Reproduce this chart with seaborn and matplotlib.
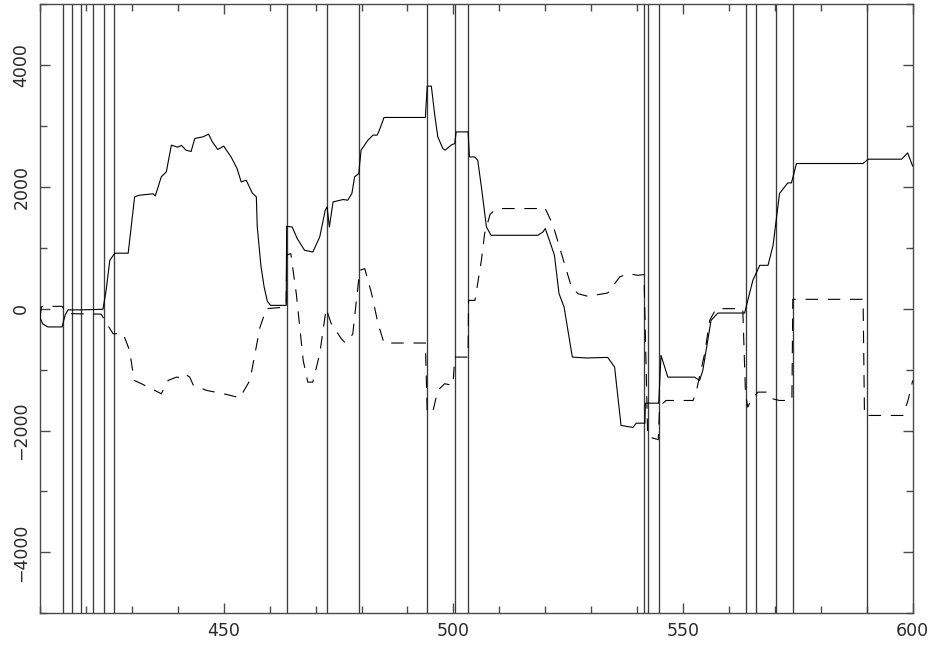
import matplotlib
matplotlib.use("Agg")
import matplotlib.pyplot as plt
import seaborn as sns
import pandas as pd
from matplotlib.ticker import MultipleLocator

# Solid trace
solid_x = [410.0, 410.6, 411.7, 414.8, 415.5, 416.1, 419.0, 423.7, 424.4, 425.2,
           426.3, 429.2, 430.6, 431.5, 432.7, 434.6, 435.1, 436.4, 437.5, 438.6,
           440.0, 440.8, 441.8, 442.9, 443.7, 445.5, 446.7, 447.5, 448.7, 450.0,
           451.6, 452.9, 453.8, 454.9, 456.2, 457.1, 457.3, 458.1, 458.8, 459.5,
           460.2, 463.6, 463.7, 464.9, 466.0, 467.6, 469.4, 470.9, 472.1, 472.5,
           473.0, 473.8, 476.0, 477.0, 477.9, 478.5, 479.4, 479.9, 481.4, 482.5,
           483.4, 483.9, 484.9, 493.9, 494.3, 495.2, 495.9, 496.6, 497.7, 498.2,
           499.5, 500.3, 500.6, 503.2, 503.5, 504.6, 505.3, 506.1, 507.2, 508.2,
           518.4, 519.5, 520.0, 520.9, 522.0, 523.0, 524.1, 525.9, 529.0, 533.6,
           535.1, 536.5, 539.1, 539.8, 541.7, 541.8, 544.7, 545.2, 546.7, 552.5,
           553.6, 554.3, 556.1, 557.6, 563.4, 565.2, 566.7, 568.5, 569.6, 571.0,
           572.8, 573.6, 574.7, 589.2, 590.3, 597.6, 598.9, 600.0]
solid_y = [-150, -250, -300, -300, -100, -20, -20, -10, 300, 794,
           910, 910, 1834, 1860, 1870, 1885, 1850, 2163, 2245, 2683,
           2650, 2680, 2600, 2580, 2793, 2820, 2864, 2740, 2612, 2667,
           2490, 2300, 2080, 2108, 1900, 1834, 1341, 700, 355, 120,
           54, 54, 1352, 1341, 1150, 958, 930, 1177, 1615, 1670,
           1341, 1752, 1791, 1780, 1890, 2163, 2218, 2601, 2765, 2848,
           2848, 2930, 3138, 3138, 3652, 3652, 3204, 2820, 2629, 2601,
           2683, 2711, 2901, 2901, 2490, 2490, 2436, 1997, 1340, 1204,
           1204, 1258, 1314, 1122, 876, 246, 26, -795, -810, -800,
           -960, -1917, -1950, -1880, -1880, -1551, -1551, -767, -1124, -1124,
           -1178, -1014, -192, -72, -72, 465, 711, 711, 1040, 1889,
           2064, 2064, 2382, 2382, 2453, 2453, 2556, 2338]

# Dashed trace
dashed_x = [410.0, 410.3, 410.8, 414.8, 415.6, 416.3, 423.3, 424.1, 425.9, 428.1,
            429.5, 430.5, 432.1, 432.8, 435.0, 436.4, 437.9, 439.7, 440.5, 441.5,
            442.6, 443.4, 446.3, 450.6, 453.5, 455.7, 456.8, 457.9, 459.3, 463.6,
            463.7, 464.6, 465.8, 467.3, 468.3, 469.4, 470.9, 472.3, 473.4, 475.6,
            476.3, 477.3, 478.1, 479.6, 480.7, 482.2, 483.6, 484.9, 493.9, 494.3,
            495.5, 496.6, 498.1, 499.9, 500.3, 503.2, 503.3, 504.7, 506.1, 506.8,
            508.0, 509.0, 510.0, 518.4, 519.1, 520.0, 521.7, 523.1, 525.7, 527.1,
            529.3, 533.6, 536.2, 538.0, 540.2, 541.5, 542.3, 544.6, 544.9, 546.3,
            552.2, 553.1, 553.4, 554.7, 555.8, 557.2, 563.0, 563.6, 564.1, 564.8,
            566.3, 568.5, 569.5, 571.0, 573.7, 573.9, 589.2, 589.5, 597.9, 599.0,
            600.0]
dashed_y = [-150, 30, 38, 38, -60, -82, -90, -192, -411, -411,
            -685, -1178, -1232, -1260, -1342, -1397, -1178, -1124, -1130, -1068,
            -1124, -1260, -1342, -1408, -1463, -1178, -740, -302, 0, 26,
            880, 903, 246, -850, -1206, -1206, -740, 0, -246, -493,
            -548, -520, -411, 629, 657, 246, -246, -564, -564, -1699,
            -1699, -1342, -1232, -1260, -795, -795, 136, 136, 794, 1232,
            1550, 1615, 1643, 1643, 1615, 1643, 1369, 1012, 355, 246,
            202, 257, 520, 575, 547, 560, -2100, -2150, -1600, -1507,
            -1507, -1288, -1178, -740, -192, 0, 0, -1400, -1616, -1500,
            -1370, -1370, -1480, -1507, -1507, 153, 153, -1753, -1753, -1500,
            -1178]

# Segment boundaries
boundaries = [414.95, 417.05, 419.0, 421.45, 423.85, 426.15, 463.7, 472.4, 479.5,
              494.25, 500.35, 503.25, 541.5, 542.3, 544.8, 563.6, 565.85, 570.2,
              573.95, 590.1]

x_ticks = [450, 500, 550, 600]
y_ticks = [-4000, -2000, 0, 2000, 4000]

sns.set_style("ticks")
plt.rcParams["font.family"] = ["DejaVu Sans"]
plt.rcParams["lines.scale_dashes"] = False

fig = plt.figure(figsize=(9.32, 6.45), dpi=100)
ax = fig.add_axes([40 / 932, 1 - 613.3 / 645, (912.7 - 40) / 932, (613.3 - 4) / 645])

frame_col = "#4a4a4a"
for xb in boundaries:
    ax.axvline(xb, color="#3a3a3a", lw=0.95, zorder=1)

df_solid = pd.DataFrame({"x": solid_x, "y": solid_y})
df_dashed = pd.DataFrame({"x": dashed_x, "y": dashed_y})
sns.lineplot(data=df_solid, x="x", y="y", ax=ax, color="black", lw=0.8,
             estimator=None, sort=False, zorder=3)
sns.lineplot(data=df_dashed, x="x", y="y", ax=ax, color="black", lw=0.8,
             estimator=None, sort=False, zorder=3,
             linestyle=(0, (9.0, 7.0)))

ax.set_xlim(410, 600)
ax.set_ylim(-5000, 5000)
ax.set_xticks(x_ticks)
ax.set_yticks(y_ticks)
ax.xaxis.set_minor_locator(MultipleLocator(10))
ax.yaxis.set_minor_locator(MultipleLocator(1000))
ax.set_xlabel("")
ax.set_ylabel("")

for sp in ax.spines.values():
    sp.set_visible(True)
    sp.set_color(frame_col)
    sp.set_linewidth(1.0)

ax.tick_params(which="major", direction="in", length=7.5, width=1.0, color=frame_col,
               top=True, right=True, labelsize=12.5, labelcolor="#2a2a2a")
ax.tick_params(which="minor", direction="in", length=5, width=1.0, color=frame_col,
               top=True, right=True)
ax.tick_params(axis="x", which="major", pad=6)
ax.tick_params(axis="y", which="major", pad=7)

ax.set_xticklabels([str(v) for v in x_ticks])
ax.set_yticklabels(["\u2212" + str(-v) if v < 0 else str(v) for v in y_ticks],
                   rotation=90, va="center")

fig.savefig("out.png", dpi=100)
